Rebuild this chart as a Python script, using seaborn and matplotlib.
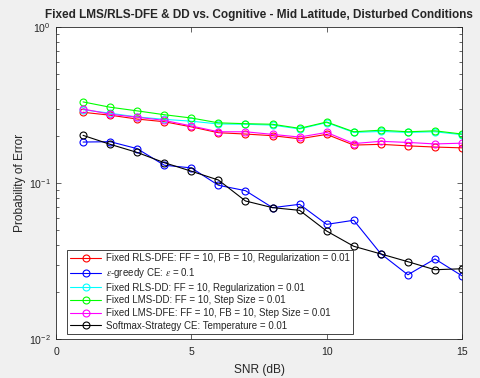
# -*- coding: utf-8 -*-
"""
Fixed LMS/RLS-DFE & DD vs. Cognitive - Mid Latitude, Disturbed Conditions
MATLAB-style semilogy chart redrawn with seaborn
"""
import numpy as np
import pandas as pd
import matplotlib
matplotlib.use('Agg')
import matplotlib.pyplot as plt
import seaborn as sns

# ==================== data ====================
snr = [1, 2, 3, 4, 5, 6, 7, 8, 9, 10, 11, 12, 13, 14, 15]

rls_dfe = [0.284, 0.272, 0.257, 0.247, 0.229, 0.210, 0.206, 0.201, 0.192, 0.205,
           0.175, 0.177, 0.173, 0.170, 0.168]
eps_greedy = [0.183, 0.184, 0.166, 0.130, 0.125, 0.0967, 0.0893, 0.0695, 0.0730, 0.0543,
              0.0577, 0.0352, 0.0258, 0.0326, 0.0254]
rls_dd = [0.295, 0.280, 0.265, 0.256, 0.249, 0.239, 0.238, 0.235, 0.222, 0.244,
          0.211, 0.214, 0.211, 0.213, 0.204]
lms_dd = [0.331, 0.306, 0.290, 0.274, 0.261, 0.243, 0.240, 0.238, 0.224, 0.246,
          0.213, 0.218, 0.213, 0.216, 0.206]
lms_dfe = [0.298, 0.276, 0.264, 0.252, 0.232, 0.213, 0.213, 0.205, 0.197, 0.211,
           0.179, 0.185, 0.182, 0.178, 0.180]
softmax = [0.202, 0.177, 0.157, 0.135, 0.119, 0.1045, 0.0767, 0.0695, 0.0668, 0.0492,
           0.0393, 0.0351, 0.0313, 0.0278, 0.0282]

labels = ['Fixed RLS-DFE: FF = 10, FB = 10, Regularization = 0.01',
          r'$\epsilon$-greedy CE: $\epsilon$ = 0.1',
          'Fixed RLS-DD: FF = 10, Regularization = 0.01',
          'Fixed LMS-DD: FF = 10, Step Size = 0.01',
          'Fixed LMS-DFE: FF = 10, FB = 10, Step Size = 0.01',
          'Softmax-Strategy CE: Temperature = 0.01']
series = [rls_dfe, eps_greedy, rls_dd, lms_dd, lms_dfe, softmax]
colors = ['#ff0000', '#0000ff', '#00ffff', '#00ff00', '#ff00ff', '#000000']

# ==================== style ====================
sns.set_theme(style='ticks')
plt.rcParams['font.family'] = ['Liberation Sans', 'DejaVu Sans']
plt.rcParams['mathtext.fontset'] = 'stix'
plt.rcParams['xtick.direction'] = 'in'
plt.rcParams['ytick.direction'] = 'in'
plt.rcParams['axes.linewidth'] = 0.6
plt.rcParams['axes.edgecolor'] = '#262626'

fig = plt.figure(figsize=(4.81, 3.78), dpi=100, facecolor='#f0f0f0')
ax = fig.add_axes([56 / 481, 1 - 339 / 378, 406 / 481, 312 / 378])
ax.set_facecolor('white')

for vals, lab, col in zip(series, labels, colors):
    df = pd.DataFrame({'SNR': snr, 'Pe': vals})
    sns.lineplot(data=df, x='SNR', y='Pe', ax=ax, color=col, lw=0.8,
                 marker='o', markersize=5, markerfacecolor='none',
                 markeredgecolor=col, markeredgewidth=0.8, label=lab)

ax.set_yscale('log')
ax.set_xlim(0, 15)
ax.set_ylim(1e-2, 1e0)
ax.set_xticks([0, 5, 10, 15])
ax.tick_params(which='both', top=True, right=True, labelsize=7.6,
               color='#262626', width=0.5, labelcolor='#262626')
ax.tick_params(which='major', length=3.5)
ax.tick_params(axis='x', which='major', pad=6)
ax.tick_params(axis='y', which='major', pad=4)
ax.tick_params(which='minor', length=2)

ax.set_title('Fixed LMS/RLS-DFE & DD vs. Cognitive - Mid Latitude, Disturbed Conditions',
             fontsize=8.5, fontweight='bold', pad=6.5)
ax.set_xlabel('SNR (dB)', fontsize=8.6, labelpad=5, color='#262626')
ax.set_ylabel('Probability of Error', fontsize=8.6, labelpad=2, color='#262626')

leg = ax.legend(loc='lower left', bbox_to_anchor=(0.027, 0.016), borderaxespad=0,
                fontsize=7.0, frameon=True, fancybox=False, framealpha=1,
                edgecolor='#262626', labelspacing=0.27, handlelength=3.2,
                handletextpad=0.45, borderpad=0.35)
leg.get_frame().set_linewidth(0.6)

fig.savefig('out.png', dpi=100, facecolor=fig.get_facecolor())
plt.close(fig)
